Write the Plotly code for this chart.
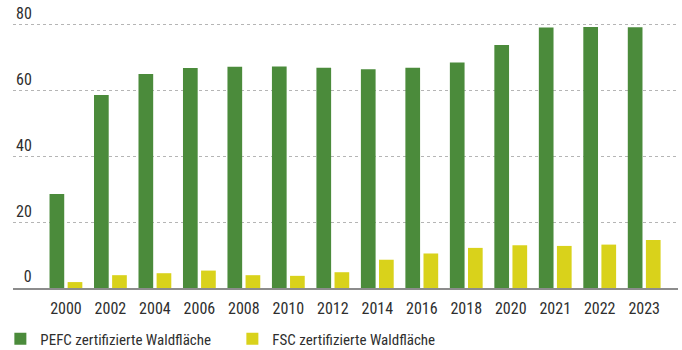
import plotly.graph_objects as go

# Zertifizierte Waldfläche in Deutschland (Anteil in %)
jahre = ["2000", "2002", "2004", "2006", "2008", "2010", "2012",
         "2014", "2016", "2018", "2020", "2021", "2022", "2023"]
pefc = [28.6, 58.7, 65.1, 66.9, 67.3, 67.4, 67.0,
        66.5, 67.0, 68.6, 73.9, 79.2, 79.4, 79.3]
fsc = [1.8, 3.9, 4.5, 5.3, 3.9, 3.7, 4.8,
       8.6, 10.5, 12.2, 13.0, 12.8, 13.2, 14.6]

y_ticks = [0, 20, 40, 60, 80]
y_ticktext = ["\u20070", "20", "40", "60", "80"]

GREEN = "#4b8b3b"
YELLOW = "#d9d21b"
TEXT = "#2e2e2e"
FONT = "Roboto Condensed"

fig = go.Figure()
fig.add_trace(go.Bar(x=jahre, y=pefc, name="PEFC zertifizierte Waldfläche",
                     marker=dict(color=GREEN, line=dict(width=0))))
fig.add_trace(go.Bar(x=jahre, y=fsc, name="FSC zertifizierte Waldfläche",
                     marker=dict(color=YELLOW, line=dict(width=0))))

fig.update_layout(
    width=682, height=350,
    margin=dict(l=13, r=4, t=0, b=62, autoexpand=False),
    paper_bgcolor="white", plot_bgcolor="white",
    barmode="group", bargap=0.186, bargroupgap=0.188,
    font=dict(family=FONT, size=16, color=TEXT),
    showlegend=True,
    legend=dict(orientation="h", x=-0.019, xanchor="left", y=-0.177, yanchor="middle",
                font=dict(family=FONT, size=15, color=TEXT),
                entrywidth=187, entrywidthmode="pixels",
                itemclick=False, itemdoubleclick=False, bgcolor="rgba(0,0,0,0)"),
)

fig.update_xaxes(
    type="category", range=[-1.19, 13.76], automargin=False,
    showgrid=False, showline=True, linecolor="#8c8c8c", linewidth=1.5,
    ticks="", ticklabelstandoff=5,
    tickfont=dict(family=FONT, size=16, color=TEXT),
)
fig.update_yaxes(
    range=[0, 87.6], tickvals=y_ticks, ticktext=y_ticktext, automargin=False,
    ticklabelposition="inside top",
    showgrid=True, gridcolor="#b5b5b5", griddash="dot", gridwidth=1,
    zeroline=False, showline=False, ticks="",
    tickfont=dict(family=FONT, size=16, color=TEXT),
)

fig.write_html("out.html")
